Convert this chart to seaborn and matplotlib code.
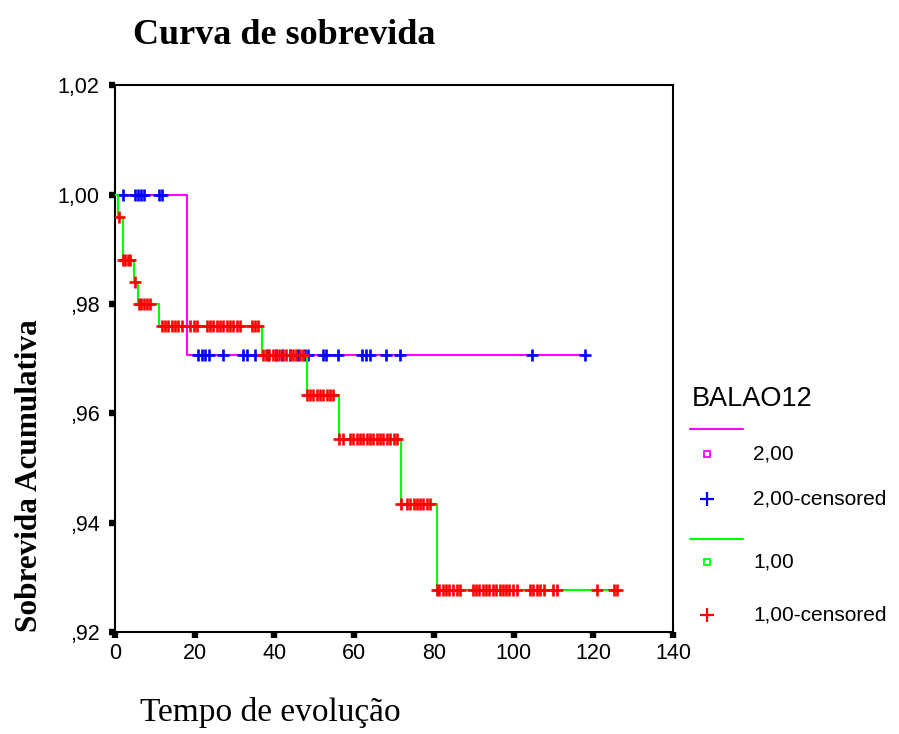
import numpy as np
import pandas as pd
import matplotlib
matplotlib.use("Agg")
import matplotlib.pyplot as plt
import seaborn as sns
from matplotlib.lines import Line2D

# ---------------- data ----------------
# group 2,00 (magenta line, blue censor marks)
g2_times = [0.0, 18.06, 117.8]
g2_surv = [1.0, 0.9706, 0.9706]
g2_cens = [1.9, 5.0, 5.8, 6.5, 7.3, 11.0, 11.8,
           20.9, 21.75, 22.6, 23.6, 27.2, 32.2, 33.0, 35.0,
           38.5, 40.5, 42.0, 44.0, 46.0,
           47.7, 48.5, 52.3, 53.0, 56.0, 61.9, 62.9, 64.0, 68.0, 71.5,
           104.7, 117.8]

# group 1,00 (green line, red censor marks)
g1_times = [0.0, 0.84, 1.93, 4.85, 5.86, 11.04, 36.97, 48.1, 56.1, 71.75, 80.7, 125.9]
g1_surv = [1.0, 0.996, 0.988, 0.984, 0.980, 0.976, 0.9706, 0.9634, 0.9554, 0.9434, 0.9276, 0.9276]
g1_cens = [0.9,
           2.0, 2.5, 3.2, 3.8,
           4.9,
           6.0, 6.6, 7.3, 8.0, 8.8,
           11.7, 12.55, 13.4, 14.2, 15.06, 15.9, 16.7, 18.8, 19.7, 20.5,
           23.0, 23.8, 24.7, 25.5, 26.4, 27.2, 28.0, 28.9, 29.7, 30.5, 31.4,
           34.3, 35.1, 36.0,
           37.1, 37.9, 38.7, 39.6, 40.4, 41.2, 42.1, 42.9, 43.8, 44.6, 45.4, 46.3, 47.1,
           48.2, 48.95, 49.8, 50.6, 51.4, 52.3, 53.1, 54.0, 54.8,
           56.3, 57.1, 59.0, 59.8, 60.7, 61.5, 62.3, 63.2, 64.0, 64.8, 65.7, 66.5, 67.3,
           68.2, 69.0, 70.1, 70.7,
           71.8, 73.2, 74.0, 74.9, 75.7, 76.6, 77.4, 78.2, 79.1,
           80.8, 81.4, 82.25, 83.1, 83.9, 84.75, 85.8, 86.6,
           89.8, 90.6, 91.4, 92.3, 93.1, 93.95, 94.8, 95.6, 96.5, 97.3, 98.1, 98.97, 99.97, 100.8,
           104.0, 104.8, 105.8, 106.7, 107.7, 110.0, 110.9, 120.9, 125.1, 125.9]

x_ticks = [0, 20, 40, 60, 80, 100, 120, 140]
y_ticks = [0.92, 0.94, 0.96, 0.98, 1.00, 1.02]
y_tick_labels = [",92", ",94", ",96", ",98", "1,00", "1,02"]

title = "Curva de sobrevida"
x_label = "Tempo de evolução"
y_label = "Sobrevida Acumulativa"
legend_title = "BALAO12"
legend_labels = ["2,00", "2,00-censored", "1,00", "1,00-censored"]

c_mag, c_blue, c_green, c_red = "#FF00FF", "#0000FF", "#00FF00", "#FF0000"

# ---------------- helpers ----------------
def surv_at(times, surv, t):
    idx = np.searchsorted(np.asarray(times), np.asarray(t), side="right") - 1
    return np.asarray(surv)[idx]

g2_line = pd.DataFrame({"t": g2_times, "s": g2_surv})
g1_line = pd.DataFrame({"t": g1_times, "s": g1_surv})
g2_c = pd.DataFrame({"t": g2_cens, "s": surv_at(g2_times, g2_surv, g2_cens)})
g1_c = pd.DataFrame({"t": g1_cens, "s": surv_at(g1_times, g1_surv, g1_cens)})

# ---------------- figure ----------------
sns.set_style("white")
plt.rcParams["font.family"] = ["Liberation Sans", "DejaVu Sans"]
plt.rcParams["text.color"] = "black"
plt.rcParams["axes.labelcolor"] = "black"

W, H = 899, 734
fig = plt.figure(figsize=(W / 100, H / 100), dpi=100)
L, R, T, B = 115, 673, 85.4, 632
ax = fig.add_axes([L / W, 1 - B / H, (R - L) / W, (B - T) / H])

lw = 1.5
ms_area = 80
mew = 1.9
sns.lineplot(data=g2_line, x="t", y="s", ax=ax, color=c_mag, lw=lw,
             drawstyle="steps-post", estimator=None, sort=False, zorder=2)
sns.scatterplot(data=g2_c, x="t", y="s", ax=ax, color=c_blue, marker="+",
                s=ms_area, linewidth=mew, zorder=3)
sns.lineplot(data=g1_line, x="t", y="s", ax=ax, color=c_green, lw=lw,
             drawstyle="steps-post", estimator=None, sort=False, zorder=4)
sns.scatterplot(data=g1_c, x="t", y="s", ax=ax, color=c_red, marker="+",
                s=ms_area, linewidth=mew, zorder=5)

ax.set_xlim(0, 140)
ax.set_ylim(0.92, 1.02)
ax.set_xticks(x_ticks)
ax.set_xticklabels([str(v) for v in x_ticks])
ax.set_yticks(y_ticks)
ax.set_yticklabels(y_tick_labels)
ax.tick_params(axis="both", bottom=True, left=True, direction="out",
               length=4.6, width=4.6, color="black",
               labelsize=15.5, labelcolor="black")
ax.tick_params(axis="x", pad=3)
ax.tick_params(axis="y", pad=6.5)
for sp in ax.spines.values():
    sp.set_visible(True)
    sp.set_color("black")
    sp.set_linewidth(1.5)
ax.set_xlabel("")
ax.set_ylabel("")
ax.grid(False)

serif = ["Liberation Serif", "DejaVu Serif"]
fig.text(284 / W, 1 - 35 / H, title, ha="center", va="center", color="black",
         fontsize=26, fontweight="bold", family=serif)
fig.text(30 / W, 1 - 476 / H, y_label, ha="center", va="center", rotation=90,
         color="black", fontsize=22.5, fontweight="bold", family=serif)
fig.text(270 / W, 1 - 712 / H, x_label, ha="center", va="center", color="black",
         fontsize=24, family=serif)

# ---------------- legend (pixel overlay) ----------------
lx = fig.add_axes([0, 0, 1, 1], facecolor="none")
lx.set_xlim(0, W)
lx.set_ylim(H, 0)
lx.axis("off")
lx.text(692, 399, legend_title, ha="left", va="center", fontsize=19.5, color="black")
lx.add_line(Line2D([690, 743], [429, 429], color=c_mag, lw=1.5))
lx.plot([707], [454], marker="s", ms=5, mfc="white", mec=c_mag, mew=1.3, ls="none")
lx.text(753, 454, legend_labels[0], ha="left", va="center", fontsize=15, color="black")
lx.plot([707], [499], marker="+", ms=10, mec=c_blue, mew=1.6, ls="none")
lx.text(753, 499, legend_labels[1], ha="left", va="center", fontsize=15, color="black")
lx.add_line(Line2D([690, 743], [539, 539], color=c_green, lw=1.5))
lx.plot([707], [562], marker="s", ms=5, mfc="white", mec=c_green, mew=1.3, ls="none")
lx.text(753, 562, legend_labels[2], ha="left", va="center", fontsize=15, color="black")
lx.plot([707], [615], marker="+", ms=10, mec=c_red, mew=1.6, ls="none")
lx.text(753, 615, legend_labels[3], ha="left", va="center", fontsize=15, color="black")

fig.savefig("out.png", dpi=100, facecolor="white")
